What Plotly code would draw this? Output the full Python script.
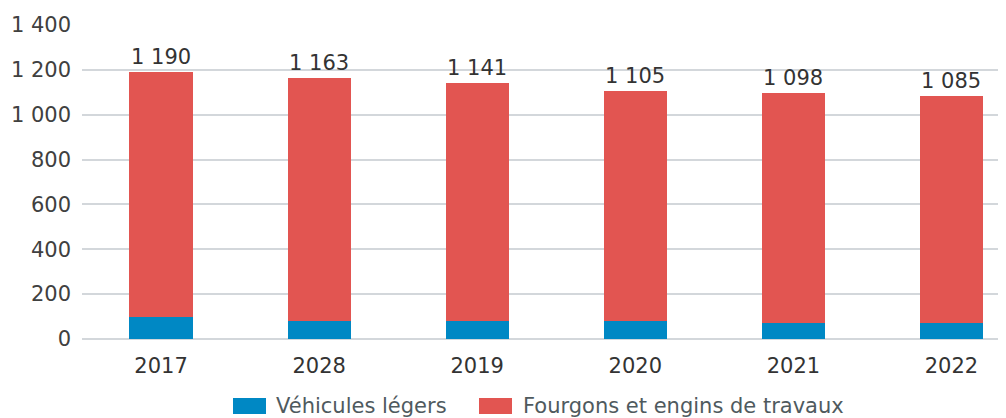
import plotly.graph_objects as go

years = ["2017", "2028", "2019", "2020", "2021", "2022"]
totals = [1190, 1163, 1141, 1105, 1098, 1085]
vehicules_legers = [100, 82, 82, 82, 73, 72]
fourgons = [t - v for t, v in zip(totals, vehicules_legers)]
y_ticks = [0, 200, 400, 600, 800, 1000, 1200, 1400]
series_names = ["Véhicules légers", "Fourgons et engins de travaux"]
series_colors = ["#0088c4", "#e25551"]


def fmt(n):
    return f"{n:,}".replace(",", " ")


# the page body has an 8px margin; the figure is sized so it fills the window
OFF = 8
W, H = 1006 - OFF, 418 - OFF
ML, MR, MT, MB = 82 - OFF, 0, 25 - OFF, 79
PW, PH = W - ML - MR, H - MT - MB


def px_x(px):  # page pixel -> paper x
    return (px - OFF - ML) / PW


def px_y(py):  # page pixel -> paper y
    return (H - MB - (py - OFF)) / PH


NUM_FONT = "DejaVu Sans"
fig = go.Figure()
for name, vals, col in zip(series_names, [vehicules_legers, fourgons], series_colors):
    fig.add_trace(go.Bar(x=years, y=vals, name=name,
                         marker=dict(color=col, line=dict(width=0)), showlegend=False))

annotations = []
for i, t in enumerate(totals):  # category index on the x axis
    annotations.append(dict(x=i, y=t, xref="x", yref="y", text=fmt(t), showarrow=False,
                            xanchor="center", yanchor="bottom", yshift=2, borderpad=0,
                            font=dict(family=NUM_FONT, size=21, color="#333333")))

# manual legend (large square swatches)
legend_items = [(233, 275), (479, 522)]
shapes = []
for (sx, tx), name, col in zip(legend_items, series_names, series_colors):
    shapes.append(dict(type="rect", xref="paper", yref="paper",
                       x0=px_x(sx), x1=px_x(sx + 33), y0=px_y(398), y1=px_y(414),
                       fillcolor=col, line=dict(width=0)))
    annotations.append(dict(xref="paper", yref="paper", x=px_x(tx), y=px_y(406),
                            xanchor="left", yanchor="middle", text=name, showarrow=False,
                            font=dict(family=NUM_FONT, size=21, color="#4f5a5e"),
                            borderpad=0))

fig.update_layout(
    width=W, height=H,
    margin=dict(l=ML, r=MR, t=MT, b=MB),
    barmode="stack", bargap=0.6,
    plot_bgcolor="white", paper_bgcolor="white",
    font=dict(family=NUM_FONT, color="#404040"),
    showlegend=False,
    shapes=shapes, annotations=annotations,
    xaxis=dict(type="category", range=[-0.5, 5.345], showgrid=False, showline=False,
               automargin=False, ticks="", ticklabelstandoff=12,
               tickfont=dict(family=NUM_FONT, size=21, color="#333333")),
    yaxis=dict(range=[0, 1400], tickvals=y_ticks, ticktext=[fmt(v) for v in y_ticks],
               showgrid=True, gridcolor="#d3d7db", gridwidth=2, automargin=False,
               zeroline=True, zerolinecolor="#d3d7db", zerolinewidth=2,
               tickfont=dict(family=NUM_FONT, size=21, color="#404040"), ticks="",
               ticklabelstandoff=10),
)
fig.write_html("out.html")
